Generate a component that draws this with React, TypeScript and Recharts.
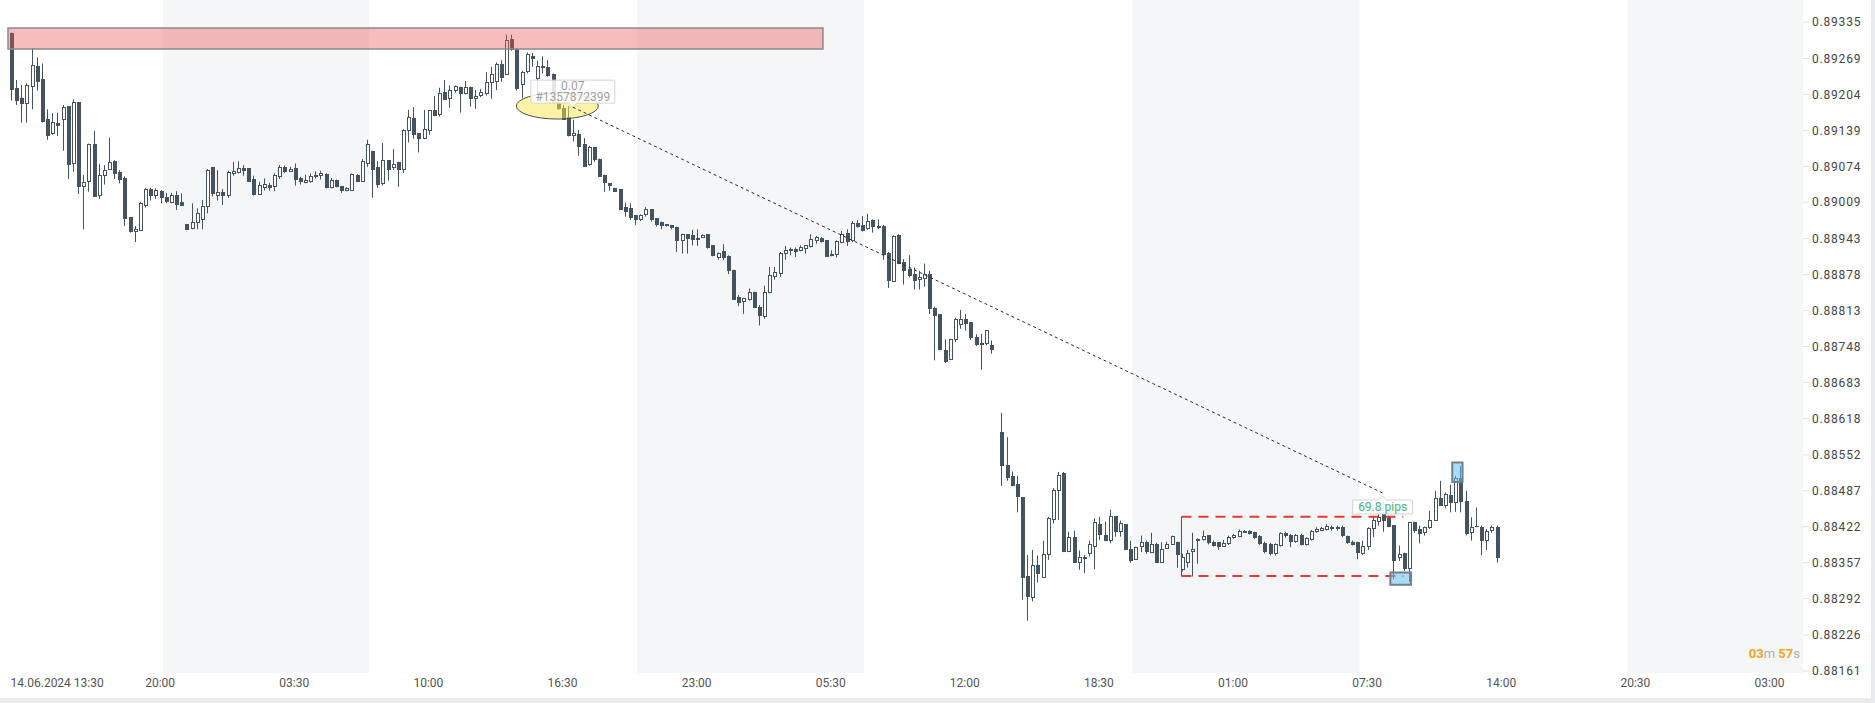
import React from "react";
import {
  Bar,
  ComposedChart,
  ReferenceArea,
  ReferenceDot,
  ReferenceLine,
  XAxis,
  YAxis,
} from "recharts";

// 15 min candles, one slot per bar, slot 191 is the weekend gap
const opens = [
  0.89315, 0.89215, 0.89197, 0.89186, 0.89217, 0.89255, 0.89231, 0.89159, 0.89132, 0.89152,
  0.89158, 0.89183, 0.89079, 0.8919, 0.89037, 0.89046, 0.89115, 0.89021, 0.89057, 0.89068,
  0.89083, 0.89064, 0.89053, 0.88982, 0.88956, 0.88957, 0.89003, 0.89033, 0.89021, 0.89029,
  0.89018, 0.89008, 0.89022, 0.89009, 0.88969, 0.8896, 0.88971, 0.88976, 0.89001, 0.89073,
  0.89021, 0.89027, 0.89021, 0.8906, 0.89062, 0.89071, 0.89071, 0.89051, 0.89022, 0.89034,
  0.8904, 0.89036, 0.89055, 0.89073, 0.89064, 0.8907, 0.89053, 0.89044, 0.89046, 0.89054,
  0.89056, 0.8906, 0.89034, 0.89049, 0.89038, 0.8903, 0.8903, 0.89059, 0.89046, 0.89078,
  0.89102, 0.89073, 0.89042, 0.89085, 0.8907, 0.89082, 0.89068, 0.89137, 0.89161, 0.89134,
  0.89123, 0.89138, 0.89176, 0.89166, 0.89209, 0.89196, 0.8921, 0.89218, 0.89204, 0.89218,
  0.89195, 0.89201, 0.89204, 0.89224, 0.89227, 0.89259, 0.89239, 0.89304, 0.89286, 0.89221,
  0.89244, 0.89274, 0.89231, 0.89256, 0.89253, 0.89241, 0.89188, 0.8918, 0.89164, 0.89129,
  0.89132, 0.89114, 0.89076, 0.89109, 0.89088, 0.89058, 0.89043, 0.89034, 0.89033, 0.89001,
  0.88998, 0.88986, 0.88977, 0.88985, 0.88996, 0.8898, 0.88974, 0.88969, 0.88968, 0.88965,
  0.88939, 0.88951, 0.88949, 0.8894, 0.88945, 0.88951, 0.88931, 0.88909, 0.8892, 0.88911,
  0.88886, 0.88838, 0.88829, 0.88832, 0.88847, 0.8882, 0.88801, 0.88845, 0.88874, 0.8888,
  0.88915, 0.8892, 0.88924, 0.88921, 0.88925, 0.88928, 0.88939, 0.88945, 0.8894, 0.88912,
  0.88913, 0.88936, 0.88954, 0.88939, 0.88971, 0.88968, 0.8896, 0.88977, 0.88966, 0.88966,
  0.88918, 0.88865, 0.88949, 0.889, 0.88889, 0.8888, 0.88868, 0.88871, 0.8888, 0.88818,
  0.88806, 0.88742, 0.88724, 0.8876, 0.88786, 0.88797, 0.88792, 0.88766, 0.88754, 0.88752,
  0.8875, null, 0.88594, 0.88534, 0.88513, 0.88499, 0.88475, 0.88333, 0.88293, 0.88353,
  0.8833, 0.88371, 0.88434, 0.88486, 0.88519, 0.88376, 0.88404, 0.88357, 0.88368, 0.88372,
  0.88386, 0.88427, 0.88407, 0.88396, 0.88441, 0.88412, 0.88427, 0.88382, 0.88362, 0.88385,
  0.88395, 0.88374, 0.88391, 0.88357, 0.88382, 0.88389, 0.88395, 0.88344, 0.88356, 0.88377,
  0.88396, 0.88398, 0.88407, 0.88395, 0.88394, 0.88386, 0.88391, 0.88402, 0.88404, 0.88412,
  0.88414, 0.88412, 0.88406, 0.88393, 0.88391, 0.88373, 0.88388, 0.88411, 0.88407, 0.88395,
  0.88407, 0.88389, 0.88398, 0.88412, 0.88415, 0.88416, 0.88418, 0.88418, 0.88422, 0.88406,
  0.88395, 0.88394, 0.88373, 0.88386, 0.88418, 0.88431, 0.88445, 0.8844, 0.88425, 0.88365,
  0.88375, 0.88345, 0.8843, 0.88417, 0.8841, 0.88419, 0.88433, 0.88474, 0.8846, 0.88479,
  0.88465, 0.88511, 0.88469, 0.88411, 0.88424, 0.88422, 0.88396, 0.88414, 0.88422,
];

const highs = [
  0.89316, 0.8923, 0.89221, 0.89224, 0.89288, 0.89271, 0.8926, 0.89177, 0.8917, 0.89171,
  0.89185, 0.89183, 0.89195, 0.8919, 0.89058, 0.89115, 0.89138, 0.89078, 0.89076, 0.89126,
  0.89085, 0.89067, 0.89056, 0.88982, 0.88966, 0.8901, 0.89035, 0.89035, 0.89034, 0.89031,
  0.89026, 0.89026, 0.89029, 0.89025, 0.88969, 0.89007, 0.88998, 0.89013, 0.89069, 0.89073,
  0.89067, 0.89033, 0.89066, 0.89082, 0.89083, 0.89076, 0.89071, 0.89057, 0.89046, 0.89052,
  0.89044, 0.89061, 0.89076, 0.89075, 0.89073, 0.89079, 0.89055, 0.89059, 0.89061, 0.89065,
  0.89066, 0.89061, 0.89053, 0.8905, 0.89038, 0.89036, 0.89061, 0.8906, 0.89087, 0.89122,
  0.89102, 0.89083, 0.89116, 0.89085, 0.89105, 0.89082, 0.89141, 0.89176, 0.89181, 0.89134,
  0.89176, 0.89176, 0.89201, 0.89216, 0.8923, 0.8922, 0.8922, 0.89218, 0.89228, 0.89218,
  0.89212, 0.89214, 0.89244, 0.89254, 0.89262, 0.89266, 0.89312, 0.89312, 0.89287, 0.89247,
  0.8928, 0.89279, 0.89265, 0.89273, 0.89266, 0.89242, 0.89197, 0.89185, 0.89183, 0.89158,
  0.8914, 0.89125, 0.89111, 0.89109, 0.89088, 0.89059, 0.89044, 0.89035, 0.89033, 0.89008,
  0.89007, 0.88986, 0.88987, 0.89, 0.88997, 0.8898, 0.88974, 0.88969, 0.88968, 0.88965,
  0.88952, 0.88951, 0.88959, 0.8896, 0.88951, 0.88951, 0.88931, 0.88918, 0.88933, 0.88913,
  0.88887, 0.88841, 0.88836, 0.88853, 0.88847, 0.88823, 0.88858, 0.88892, 0.88892, 0.88919,
  0.8893, 0.88927, 0.88927, 0.88931, 0.88931, 0.88951, 0.88948, 0.88946, 0.8894, 0.88922,
  0.8894, 0.88957, 0.8896, 0.88975, 0.88977, 0.88984, 0.88988, 0.88978, 0.88978, 0.88968,
  0.88919, 0.88949, 0.88951, 0.88906, 0.88913, 0.88891, 0.88885, 0.88898, 0.88885, 0.8882,
  0.88806, 0.88761, 0.88762, 0.888, 0.88814, 0.88807, 0.88792, 0.8877, 0.88771, 0.88778,
  0.88759, null, 0.88628, 0.88584, 0.88522, 0.88514, 0.88475, 0.88371, 0.8838, 0.8837,
  0.88397, 0.8844, 0.88492, 0.88521, 0.88521, 0.88413, 0.88415, 0.88379, 0.88371, 0.88397,
  0.88437, 0.8844, 0.88431, 0.88453, 0.88441, 0.88433, 0.88427, 0.88397, 0.88386, 0.88406,
  0.88397, 0.88411, 0.88393, 0.88394, 0.88395, 0.88406, 0.88395, 0.88373, 0.8838, 0.88411,
  0.88401, 0.88415, 0.88407, 0.88397, 0.88394, 0.88398, 0.88406, 0.88409, 0.88417, 0.88416,
  0.88416, 0.88413, 0.88407, 0.88395, 0.88393, 0.88392, 0.88412, 0.88413, 0.88409, 0.88409,
  0.88409, 0.88403, 0.88416, 0.88421, 0.88422, 0.88427, 0.88424, 0.88424, 0.88424, 0.88406,
  0.88397, 0.88395, 0.88397, 0.88421, 0.88442, 0.88466, 0.88469, 0.88442, 0.88425, 0.88388,
  0.88375, 0.88431, 0.88431, 0.88424, 0.88422, 0.88451, 0.88487, 0.88505, 0.88484, 0.88498,
  0.88514, 0.88532, 0.88487, 0.88439, 0.88457, 0.88424, 0.88418, 0.88424, 0.88424,
];

const lows = [
  0.89193, 0.89185, 0.89153, 0.89153, 0.89177, 0.89211, 0.89153, 0.89122, 0.89131, 0.89129,
  0.89102, 0.89051, 0.89064, 0.89024, 0.8896, 0.89028, 0.89019, 0.89015, 0.89041, 0.89068,
  0.89051, 0.89043, 0.88966, 0.88954, 0.88937, 0.88957, 0.88999, 0.89012, 0.89015, 0.89007,
  0.89007, 0.89007, 0.88995, 0.89003, 0.88959, 0.8896, 0.8896, 0.8896, 0.88989, 0.89019,
  0.89012, 0.89004, 0.89017, 0.89057, 0.89061, 0.89057, 0.89046, 0.89021, 0.89022, 0.8903,
  0.8903, 0.89029, 0.89051, 0.89062, 0.89064, 0.89039, 0.89041, 0.89043, 0.89044, 0.89052,
  0.8905, 0.89034, 0.89034, 0.89036, 0.89026, 0.89029, 0.8903, 0.89046, 0.89046, 0.89073,
  0.89017, 0.89035, 0.89039, 0.89048, 0.89067, 0.89037, 0.89062, 0.89117, 0.89124, 0.89099,
  0.89123, 0.89131, 0.89165, 0.89164, 0.89194, 0.8918, 0.89207, 0.89171, 0.89204, 0.89182,
  0.89178, 0.89199, 0.89202, 0.89196, 0.89212, 0.89227, 0.89239, 0.89283, 0.89211, 0.89197,
  0.89242, 0.89254, 0.89199, 0.89242, 0.89236, 0.89188, 0.89176, 0.89158, 0.89128, 0.89119,
  0.89093, 0.89073, 0.89075, 0.89082, 0.89055, 0.89028, 0.8903, 0.89028, 0.88995, 0.88983,
  0.88977, 0.88968, 0.88975, 0.88983, 0.88974, 0.88965, 0.8896, 0.88965, 0.8896, 0.88919,
  0.88916, 0.88916, 0.88931, 0.8893, 0.88945, 0.88925, 0.88911, 0.88905, 0.88904, 0.88879,
  0.88833, 0.88821, 0.88807, 0.88831, 0.88818, 0.88786, 0.88798, 0.88844, 0.88869, 0.88874,
  0.88905, 0.88913, 0.8891, 0.8892, 0.88916, 0.88927, 0.88934, 0.88936, 0.8891, 0.88911,
  0.88909, 0.88935, 0.8893, 0.88937, 0.88963, 0.88956, 0.88959, 0.88954, 0.8896, 0.88905,
  0.88854, 0.88865, 0.88897, 0.8886, 0.88873, 0.88851, 0.88851, 0.88856, 0.88807, 0.88723,
  0.88741, 0.88718, 0.88724, 0.88756, 0.8878, 0.88777, 0.8876, 0.88749, 0.88706, 0.8875,
  0.88735, null, 0.88496, 0.88505, 0.88495, 0.88448, 0.8829, 0.88252, 0.88287, 0.88321,
  0.8833, 0.88362, 0.88428, 0.88434, 0.88376, 0.88376, 0.88357, 0.88344, 0.88338, 0.88368,
  0.88345, 0.88398, 0.88396, 0.88392, 0.88404, 0.88404, 0.8838, 0.88357, 0.88362, 0.88376,
  0.88373, 0.88374, 0.88357, 0.88357, 0.88382, 0.88389, 0.88348, 0.88341, 0.88348, 0.88332,
  0.88355, 0.88397, 0.8839, 0.88386, 0.8838, 0.88386, 0.88389, 0.884, 0.88403, 0.88411,
  0.88408, 0.884, 0.88389, 0.88374, 0.8837, 0.8837, 0.88386, 0.88402, 0.88385, 0.88393,
  0.88388, 0.88388, 0.88397, 0.88411, 0.88414, 0.88415, 0.88415, 0.88415, 0.88403, 0.88391,
  0.88388, 0.88363, 0.88371, 0.8838, 0.88403, 0.88424, 0.88413, 0.88421, 0.88327, 0.8836,
  0.88342, 0.88322, 0.88411, 0.88392, 0.88406, 0.88418, 0.88433, 0.8846, 0.88455, 0.88448,
  0.88449, 0.88448, 0.88406, 0.88397, 0.88421, 0.8837, 0.8838, 0.88411, 0.88357,
];

const closes = [
  0.89212, 0.89193, 0.89186, 0.89221, 0.89257, 0.89227, 0.89154, 0.89129, 0.89154, 0.89147,
  0.89181, 0.89076, 0.8919, 0.89037, 0.89045, 0.89114, 0.89019, 0.89059, 0.89068, 0.89081,
  0.8906, 0.8905, 0.88979, 0.88955, 0.8896, 0.89007, 0.89033, 0.89021, 0.89031, 0.89016,
  0.89009, 0.89022, 0.89004, 0.89003, 0.88959, 0.88973, 0.8899, 0.89003, 0.89068, 0.89024,
  0.89027, 0.89021, 0.89064, 0.89065, 0.8907, 0.89066, 0.89046, 0.89022, 0.8904, 0.89042,
  0.89034, 0.89058, 0.89073, 0.89064, 0.89069, 0.8905, 0.89046, 0.89049, 0.89057, 0.89058,
  0.89062, 0.89034, 0.89049, 0.89036, 0.8903, 0.89034, 0.8906, 0.89046, 0.89083, 0.89114,
  0.89068, 0.89041, 0.89085, 0.89068, 0.89079, 0.89068, 0.8914, 0.89163, 0.89131, 0.89124,
  0.89141, 0.89176, 0.89165, 0.89207, 0.89194, 0.89212, 0.89219, 0.89204, 0.89218, 0.89195,
  0.89202, 0.89208, 0.89227, 0.89241, 0.89259, 0.89233, 0.89302, 0.89285, 0.89213, 0.89245,
  0.89278, 0.89268, 0.89256, 0.89251, 0.89237, 0.89189, 0.89177, 0.89158, 0.89128, 0.89134,
  0.89108, 0.89073, 0.89109, 0.89085, 0.89055, 0.89044, 0.89038, 0.89028, 0.88995, 0.88992,
  0.88981, 0.88977, 0.88986, 0.88996, 0.88977, 0.88968, 0.88966, 0.88966, 0.88962, 0.88939,
  0.88951, 0.88942, 0.8894, 0.88945, 0.88949, 0.88927, 0.88912, 0.88918, 0.88909, 0.88885,
  0.88833, 0.88827, 0.88835, 0.88847, 0.88818, 0.88803, 0.88847, 0.88877, 0.88883, 0.88918,
  0.88922, 0.88925, 0.88919, 0.88928, 0.88931, 0.88942, 0.88946, 0.88937, 0.8891, 0.88916,
  0.88939, 0.88951, 0.88937, 0.88971, 0.88965, 0.88957, 0.88975, 0.88965, 0.88962, 0.88913,
  0.88867, 0.88948, 0.88897, 0.88885, 0.88875, 0.88867, 0.88874, 0.8888, 0.88816, 0.88803,
  0.88742, 0.8872, 0.88762, 0.88797, 0.88797, 0.88789, 0.88764, 0.8875, 0.8875, 0.88777,
  0.88741, null, 0.88531, 0.8851, 0.88495, 0.88475, 0.8833, 0.88294, 0.88353, 0.88336,
  0.88373, 0.88437, 0.88489, 0.88516, 0.88376, 0.88404, 0.88357, 0.88368, 0.88363, 0.8839,
  0.88431, 0.88407, 0.88396, 0.88441, 0.88412, 0.88429, 0.8838, 0.8836, 0.88386, 0.88395,
  0.88376, 0.88391, 0.88357, 0.88382, 0.88391, 0.88405, 0.88371, 0.88368, 0.88374, 0.88382,
  0.884, 0.88405, 0.88392, 0.88388, 0.88386, 0.88392, 0.88404, 0.88407, 0.88414, 0.88414,
  0.88409, 0.88401, 0.88391, 0.88376, 0.88373, 0.8839, 0.88411, 0.88405, 0.88394, 0.88407,
  0.88389, 0.88402, 0.88414, 0.88418, 0.8842, 0.88423, 0.88422, 0.88422, 0.88405, 0.88392,
  0.88389, 0.88374, 0.88388, 0.8842, 0.88435, 0.8844, 0.88433, 0.88421, 0.8836, 0.88373,
  0.88345, 0.88431, 0.88415, 0.88409, 0.88421, 0.88435, 0.88474, 0.8846, 0.88481, 0.88465,
  0.88511, 0.88466, 0.88409, 0.88422, 0.88421, 0.88396, 0.88415, 0.88422, 0.88366,
];

const SLOTS = 348;

const timeLabels = [
  "14.06.2024 13:30", "20:00", "03:30", "10:00", "16:30", "23:00", "05:30",
  "12:00", "18:30", "01:00", "07:30", "14:00", "20:30", "03:00",
];
const timeLabelSlots = [0, 29, 55, 81, 107, 133, 159, 185, 211, 237, 263, 289, 315, 341];

const priceTicks = [
  0.89335, 0.89269, 0.89204, 0.89139, 0.89074, 0.89009, 0.88943, 0.88878, 0.88813, 0.88748,
  0.88683, 0.88618, 0.88552, 0.88487, 0.88422, 0.88357, 0.88292, 0.88226, 0.88161,
];
const Y_MIN = 0.881574;
const Y_MAX = 0.893748;

// shaded session ranges (slot from, slot to)
const sessions = [
  [30, 69],
  [122, 165],
  [218, 261],
  [314, 347],
];

// resistance zone
const zoneSlots = [0, 157];
const zonePrices = [0.89286, 0.89324];

// trade marker and line to target
const ellipseSlot = 106;
const ellipsePrice = 0.89183;
const tradeSlots = [109, 266];
const tradePrices = [0.89181, 0.88483];
const tradeLabel = ["0.07", "#1357872399"];
const pipsLabel = "69.8 pips";

// range box
const rangeSlots = [227, 270];
const rangePrices = [0.88333, 0.8844];

// small highlight boxes: [slotFrom, slotTo, low, high]
const markers = [
  [268, 271, 0.88317, 0.88339],
  [280, 281, 0.88503, 0.88538],
];

const DARK = "#44535e";

const data = Array.from({ length: SLOTS }, (_, i) => {
  const o = opens[i];
  const h = highs[i];
  const l = lows[i];
  const c = closes[i];
  const has = o != null && h != null && l != null && c != null;
  return { i, o, h, l, c, range: has ? [l, h] : null };
});

function Candle(props: any) {
  const { x, y, width, height, payload } = props;
  if (!payload || payload.range == null || !isFinite(y) || !isFinite(height)) return null;
  const { o, h, l, c } = payload;
  const top = Math.min(y, y + height);
  const bottom = Math.max(y, y + height);
  const span = h - l;
  const py = (v: number) => (span === 0 ? top : top + ((h - v) / span) * (bottom - top));
  const cx = Math.round(x + width / 2);
  const up = c >= o;
  const bTop = Math.round(py(Math.max(o, c)));
  const bBot = Math.round(py(Math.min(o, c)));
  const bh = Math.max(bBot - bTop, 1);
  return (
    <g>
      <line x1={cx + 0.5} x2={cx + 0.5} y1={top} y2={bottom} stroke={DARK} strokeWidth={1} />
      {up ? (
        <rect x={cx - 0.5} y={bTop + 0.5} width={3} height={Math.max(bh - 1, 1)} fill="#ffffff" stroke={DARK} strokeWidth={1} />
      ) : (
        <rect x={cx - 1} y={bTop} width={4} height={bh} fill={DARK} />
      )}
    </g>
  );
}

function TimeTick(props: any) {
  const { x, y, payload } = props;
  const k = timeLabelSlots.indexOf(payload.value);
  if (k < 0) return null;
  return (
    <text
      x={x}
      y={y}
      dy={6}
      textAnchor={k === 0 ? "start" : "middle"}
      fill="#555"
      fontSize={12}
      fontFamily="Roboto, sans-serif"
    >
      {timeLabels[k]}
    </text>
  );
}

function Ellipse(props: any) {
  const { cx, cy } = props;
  return (
    <ellipse cx={cx} cy={cy} rx={41} ry={13} fill="rgb(252,232,80)" fillOpacity={0.5} stroke="#4d4d4d" strokeWidth={1} />
  );
}

function TradeLabel(props: any) {
  const { cx, cy } = props;
  return (
    <g fontFamily="Roboto, sans-serif" fontSize={12}>
      <path
        d={`M${cx - 42},${cy - 27} h84 v23 h-38 l-4,4 l-4,-4 h-38 z`}
        fill="#ffffff"
        fillOpacity={0.85}
        stroke="#d4d4d4"
        strokeWidth={1}
        strokeLinejoin="round"
      />
      <text x={cx} y={cy - 17} textAnchor="middle" fill="#a0a0a0">
        {tradeLabel[0]}
      </text>
      <text x={cx} y={cy - 6} textAnchor="middle" fill="#a0a0a0">
        {tradeLabel[1]}
      </text>
    </g>
  );
}

function PipsLabel(props: any) {
  const { cx, cy } = props;
  return (
    <g fontFamily="Roboto, sans-serif" fontSize={12}>
      <path
        d={`M${cx - 30},${cy + 7} h26 l4,-4 l4,4 h26 v14 h-60 z`}
        fill="#ffffff"
        fillOpacity={0.92}
        stroke="#d4d4d4"
        strokeWidth={1}
      />
      <text x={cx} y={cy + 18} textAnchor="middle" fill="#45b581">
        {pipsLabel}
      </text>
    </g>
  );
}

export default function App() {
  return (
    <div style={{ position: "relative", width: 1875, height: 703, background: "#fff" }}>
      <style>{"body{margin:0}"}</style>
      <ComposedChart
        width={1875}
        height={703}
        data={data}
        margin={{ top: 0, right: 0, left: 8, bottom: 0 }}
        barCategoryGap={0}
      >
        <XAxis
          dataKey="i"
          type="category"
          interval={0}
          tickLine={false}
          axisLine={false}
          height={30}
          tick={<TimeTick />}
        />
        <YAxis
          type="number"
          orientation="right"
          domain={[Y_MIN, Y_MAX]}
          allowDataOverflow
          ticks={priceTicks}
          interval={0}
          width={72}
          axisLine={false}
          tickLine={{ stroke: "#dde0e4" }}
          tickSize={6}
          tickMargin={3}
          tick={{ fill: "#454545", fontSize: 12, fontFamily: "Roboto, sans-serif", letterSpacing: 0.8 }}
          tickFormatter={(v: number) => v.toFixed(5)}
        />
        {sessions.map(([a, b]) => (
          <ReferenceArea key={a} x1={a} x2={b} fill="#f4f6f8" fillOpacity={1} stroke="none" ifOverflow="visible" zIndex={-50} />
        ))}
        <Bar dataKey="range" barSize={4} shape={(p: any) => <Candle {...p} />} isAnimationActive={false} />
        <ReferenceArea
          x1={zoneSlots[0]}
          x2={zoneSlots[1]}
          y1={zonePrices[0]}
          y2={zonePrices[1]}
          fill="rgb(235,80,80)"
          fillOpacity={0.38}
          stroke="#8a8a8a"
          strokeWidth={1.5}
          ifOverflow="visible"
          zIndex={350}
        />
        <ReferenceDot x={ellipseSlot} y={ellipsePrice} shape={(p: any) => <Ellipse {...p} />} ifOverflow="visible" zIndex={360} />
        <ReferenceLine
          segment={[
            { x: tradeSlots[0], y: tradePrices[0] },
            { x: tradeSlots[1], y: tradePrices[1] },
          ]}
          stroke="#2b2b2b"
          strokeDasharray="3 3"
          strokeWidth={1}
          ifOverflow="visible"
          zIndex={370}
        />
        <ReferenceLine
          segment={[
            { x: rangeSlots[0], y: rangePrices[1] },
            { x: rangeSlots[1], y: rangePrices[1] },
          ]}
          stroke="#e53935"
          strokeDasharray="10 7"
          strokeWidth={2}
          ifOverflow="visible"
          zIndex={370}
        />
        <ReferenceLine
          segment={[
            { x: rangeSlots[0], y: rangePrices[0] },
            { x: rangeSlots[1], y: rangePrices[0] },
          ]}
          stroke="#e53935"
          strokeDasharray="10 7"
          strokeWidth={2}
          ifOverflow="visible"
          zIndex={370}
        />
        <ReferenceLine
          segment={[
            { x: rangeSlots[0], y: rangePrices[0] },
            { x: rangeSlots[0], y: rangePrices[1] },
          ]}
          stroke={DARK}
          strokeWidth={1}
          ifOverflow="visible"
          zIndex={370}
        />
        {markers.map(([a, b, lo, hi]) => (
          <ReferenceArea
            key={a}
            x1={a}
            x2={b}
            y1={lo}
            y2={hi}
            fill="rgb(100,190,240)"
            fillOpacity={0.55}
            stroke="#71818c"
            strokeWidth={2}
            ifOverflow="visible"
            zIndex={380}
          />
        ))}
        <ReferenceDot x={tradeSlots[0]} y={tradePrices[0]} shape={(p: any) => <TradeLabel {...p} />} ifOverflow="visible" zIndex={390} />
        <ReferenceDot x={tradeSlots[1]} y={tradePrices[1]} shape={(p: any) => <PipsLabel {...p} />} ifOverflow="visible" zIndex={390} />
      </ComposedChart>
      <div style={{ position: "absolute", left: 0, right: 0, bottom: 0, height: 5, background: "#e9ebee" }} />
      <div style={{ position: "absolute", top: 0, bottom: 0, right: 0, width: 4, background: "#e9ebee" }} />
      <div
        style={{
          position: "absolute",
          right: 75,
          top: 646,
          fontFamily: "Roboto, sans-serif",
          fontSize: 13,
          fontWeight: 700,
          color: "#f5a623",
          lineHeight: "16px",
        }}
      >
        03<span style={{ color: "#b0b0b0", fontWeight: 400 }}>m</span> 57
        <span style={{ color: "#b0b0b0", fontWeight: 400 }}>s</span>
      </div>
    </div>
  );
}
